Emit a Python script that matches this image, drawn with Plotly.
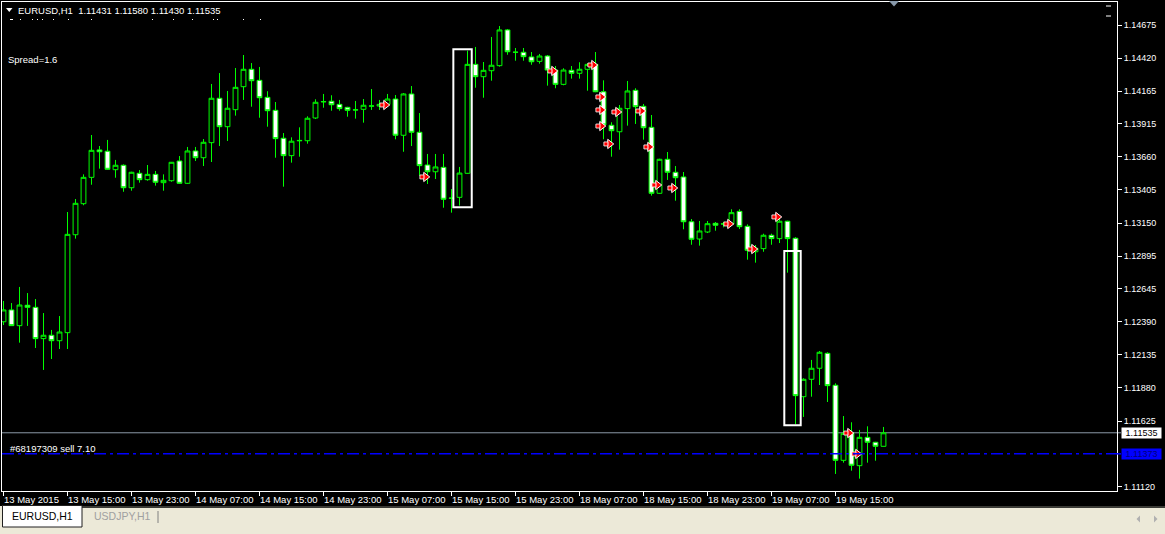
import plotly.graph_objects as go

# ---------------- data ----------------
time_labels = ["13 May 2015", "13 May 15:00", "13 May 23:00", "14 May 07:00", "14 May 15:00",
               "14 May 23:00", "15 May 07:00", "15 May 15:00", "15 May 23:00", "18 May 07:00",
               "18 May 15:00", "18 May 23:00", "19 May 07:00", "19 May 15:00"]
label_step = 8  # one time label every 8 H1 bars

opens = [1.12390, 1.12481, 1.12360, 1.12517, 1.12501, 1.12260, 1.12286, 1.12244, 1.12306, 1.13060,
         1.13299, 1.13502, 1.13713, 1.13703, 1.13561, 1.13595, 1.13422, 1.13533, 1.13484, 1.13525,
         1.13461, 1.13476, 1.13628, 1.13456, 1.13705, 1.13653, 1.13769, 1.14111, 1.13892, 1.14023,
         1.14200, 1.14334, 1.14249, 1.14118, 1.14018, 1.13803, 1.13669, 1.13783, 1.13784, 1.13959,
         1.14083, 1.14088, 1.14064, 1.14041, 1.14020, 1.14026, 1.14050, 1.14051, 1.14064, 1.14105,
         1.13826, 1.14144, 1.13849, 1.13597, 1.13545, 1.13579, 1.13340, 1.13348, 1.13533, 1.14372,
         1.14277, 1.14323, 1.14362, 1.14637, 1.14466, 1.14465, 1.14429, 1.14395, 1.14436, 1.14328,
         1.14218, 1.14326, 1.14303, 1.14334, 1.14372, 1.14161, 1.13903, 1.13853, 1.14031, 1.14172,
         1.14049, 1.13887, 1.13379, 1.13641, 1.13541, 1.13505, 1.13160, 1.13027, 1.13081, 1.13148,
         1.13142, 1.13143, 1.13240, 1.13125, 1.12929, 1.12953, 1.13056, 1.13030, 1.13164, 1.13033,
         1.11813, 1.11947, 1.12032, 1.12147, 1.11901, 1.11323, 1.11536, 1.11282, 1.11500, 1.11462,
         1.11431]
highs = [1.12550, 1.12534, 1.12658, 1.12611, 1.12565, 1.12457, 1.12327, 1.12434, 1.13235, 1.13335,
         1.13525, 1.13828, 1.13743, 1.13790, 1.13636, 1.13602, 1.13545, 1.13558, 1.13597, 1.13551,
         1.13525, 1.13620, 1.13666, 1.13736, 1.13736, 1.13797, 1.14221, 1.14305, 1.14167, 1.14344,
         1.14444, 1.14382, 1.14352, 1.14165, 1.14082, 1.13843, 1.13810, 1.13887, 1.13972, 1.14103,
         1.14144, 1.14134, 1.14098, 1.14045, 1.14090, 1.14105, 1.14182, 1.14098, 1.14144, 1.14136,
         1.14151, 1.14205, 1.13997, 1.13682, 1.13682, 1.13682, 1.13412, 1.13582, 1.14477, 1.14506,
         1.14390, 1.14583, 1.14667, 1.14644, 1.14498, 1.14498, 1.14467, 1.14452, 1.14444, 1.14359,
         1.14342, 1.14359, 1.14388, 1.14380, 1.14467, 1.14249, 1.13926, 1.14059, 1.14244, 1.14188,
         1.14067, 1.13982, 1.13645, 1.13697, 1.13589, 1.13543, 1.13181, 1.13166, 1.13166, 1.13158,
         1.13160, 1.13256, 1.13256, 1.13140, 1.12981, 1.13068, 1.13068, 1.13189, 1.13168, 1.13041,
         1.11955, 1.12096, 1.12165, 1.12155, 1.11916, 1.11664, 1.11616, 1.11557, 1.11585, 1.11465,
         1.11580]
lows = [1.12365, 1.12358, 1.12229, 1.12358, 1.12188, 1.12019, 1.12103, 1.12180, 1.12180, 1.13030,
        1.13287, 1.13445, 1.13569, 1.13560, 1.13499, 1.13391, 1.13399, 1.13461, 1.13476, 1.13438,
        1.13399, 1.13468, 1.13452, 1.13452, 1.13628, 1.13589, 1.13620, 1.13743, 1.13782, 1.13977,
        1.14098, 1.14046, 1.13961, 1.13892, 1.13653, 1.13430, 1.13615, 1.13661, 1.13761, 1.13951,
        1.14038, 1.14015, 1.14015, 1.13969, 1.13954, 1.13923, 1.14021, 1.14021, 1.14046, 1.13795,
        1.13699, 1.13743, 1.13515, 1.13451, 1.13489, 1.13268, 1.13230, 1.13284, 1.13530, 1.14192,
        1.14115, 1.14246, 1.14354, 1.14446, 1.14400, 1.14400, 1.14369, 1.14377, 1.14208, 1.14188,
        1.14211, 1.14262, 1.14262, 1.14169, 1.14158, 1.13795, 1.13661, 1.13715, 1.13900, 1.13913,
        1.13792, 1.13361, 1.13375, 1.13482, 1.13322, 1.13102, 1.12983, 1.12976, 1.13073, 1.13091,
        1.13117, 1.13140, 1.13104, 1.12868, 1.12845, 1.12929, 1.12983, 1.12996, 1.12768, 1.11600,
        1.11657, 1.11813, 1.11903, 1.11772, 1.11218, 1.11305, 1.11243, 1.11182, 1.11305, 1.11320,
        1.11430]
closes = [1.12481, 1.12360, 1.12519, 1.12501, 1.12260, 1.12286, 1.12244, 1.12311, 1.13063, 1.13302,
          1.13502, 1.13710, 1.13699, 1.13564, 1.13595, 1.13422, 1.13541, 1.13484, 1.13525, 1.13464,
          1.13479, 1.13618, 1.13456, 1.13705, 1.13653, 1.13772, 1.14111, 1.13892, 1.14034, 1.14195,
          1.14334, 1.14246, 1.14115, 1.14015, 1.13800, 1.13669, 1.13780, 1.13786, 1.13957, 1.14080,
          1.14085, 1.14061, 1.14031, 1.14018, 1.14022, 1.14057, 1.14052, 1.14064, 1.14105, 1.13826,
          1.14144, 1.13849, 1.13592, 1.13545, 1.13582, 1.13333, 1.13342, 1.13535, 1.14372, 1.14277,
          1.14326, 1.14365, 1.14637, 1.14469, 1.14465, 1.14431, 1.14392, 1.14436, 1.14328, 1.14218,
          1.14328, 1.14303, 1.14334, 1.14372, 1.14161, 1.13905, 1.13861, 1.14034, 1.14167, 1.14046,
          1.13884, 1.13379, 1.13641, 1.13541, 1.13499, 1.13160, 1.13025, 1.13089, 1.13145, 1.13133,
          1.13144, 1.13230, 1.13122, 1.12940, 1.12956, 1.13056, 1.13030, 1.13164, 1.13030, 1.11821,
          1.11947, 1.12032, 1.12155, 1.11898, 1.11323, 1.11531, 1.11285, 1.11500, 1.11462, 1.11431,
          1.11535]

# red signal arrows: bar index and price
arrow_bars = [47, 52, 68, 73, 74, 74, 74, 75, 76, 79, 80, 81, 83, 90, 93, 96, 105, 106]
arrow_prices = [1.14059, 1.13505, 1.14321, 1.14367, 1.14121, 1.14021, 1.13897, 1.13759, 1.14005,
                1.14013, 1.13736, 1.13443, 1.13420, 1.13143, 1.12950, 1.13197, 1.11533, 1.11372]

# rectangle objects (bar positions and price bounds)
rect_start_bar = [56.23, 97.60]
rect_end_bar = [58.53, 99.65]
rect_high = [1.14488, 1.12935]
rect_low = [1.13271, 1.11593]

price_ticks = [1.14675, 1.14420, 1.14165, 1.13915, 1.13660, 1.13405, 1.13150, 1.12895,
               1.12645, 1.12390, 1.12135, 1.11880, 1.11625, 1.11120]
bid_price = 1.11535
order_price = 1.11373
order_text = "#68197309 sell 7.10"
spread_text = "Spread=1.6"
symbol = "EURUSD,H1"
tabs = ["EURUSD,H1", "USDJPY,H1"]

# ---------------- layout geometry ----------------
W, H = 1165, 534
PL, PR, PT, PB = 2, 1117, 2, 491          # plot area in pixels
BAR_PX = 8.0
FIRST_BAR_PX = 3.5
PX_PER_PRICE = 12987.0
REF_PRICE, REF_Y = 1.14675, 25.0

x_range = [(PL - FIRST_BAR_PX) / BAR_PX, (PR - FIRST_BAR_PX) / BAR_PX]
y_range = [REF_PRICE - (PB - REF_Y) / PX_PER_PRICE, REF_PRICE + (REF_Y - PT) / PX_PER_PRICE]


def fx(px):
    return (px - PL) / (PR - PL)


def fy(py):
    return (PB - py) / (PB - PT)


FONT = "Liberation Sans"
GREEN = "#00ff00"

n = len(opens)
bars = list(range(n))

fig = go.Figure()
fig.add_trace(go.Candlestick(
    x=bars, open=opens, high=highs, low=lows, close=closes,
    increasing=dict(line=dict(color=GREEN, width=1), fillcolor="#000000"),
    decreasing=dict(line=dict(color=GREEN, width=1), fillcolor="#ffffff"),
    whiskerwidth=0, showlegend=False, hoverinfo="skip",
))

# arrow heads
fig.add_trace(go.Scatter(
    x=[b + 0.78 for b in arrow_bars], y=arrow_prices, mode="markers",
    marker=dict(symbol="triangle-right", size=8, color="#ff0000",
                line=dict(color="#ffffff", width=1)),
    showlegend=False, hoverinfo="skip",
))
# arrow tails
fig.add_trace(go.Scatter(
    x=[b + 0.3 for b in arrow_bars], y=arrow_prices, mode="markers",
    marker=dict(symbol="square", size=4, color="#ff0000",
                line=dict(color="#ffffff", width=0.8)),
    showlegend=False, hoverinfo="skip",
))

shapes = []
# rectangles
for x0, x1, hi, lo in zip(rect_start_bar, rect_end_bar, rect_high, rect_low):
    shapes.append(dict(type="rect", xref="x", yref="y", x0=x0, x1=x1, y0=lo, y1=hi,
                       line=dict(color="#ffffff", width=2), fillcolor="rgba(0,0,0,0)", layer="above"))
# bid line and order line
shapes.append(dict(type="line", xref="paper", yref="y", x0=0, x1=fx(1121), y0=bid_price, y1=bid_price,
                   line=dict(color="#8c9aa8", width=1), layer="below"))
shapes.append(dict(type="line", xref="paper", yref="y", x0=0, x1=1, y0=order_price, y1=order_price,
                   line=dict(color="#0000ff", width=1.5, dash="12px,4px,3px,4px"), layer="above"))
shapes.append(dict(type="line", xref="paper", yref="y", x0=1, x1=fx(1121), y0=order_price, y1=order_price,
                   line=dict(color="#0000ff", width=1.5)))

# header triangle
shapes.append(dict(type="path", xref="paper", yref="paper",
                   path=f"M {fx(6)} {fy(8)} L {fx(12.5)} {fy(8)} L {fx(9.25)} {fy(12)} Z",
                   fillcolor="#ffffff", line=dict(width=0)))
# clipped second text line under the header (only its top pixels are visible)
for xd in (10, 20, 32, 37, 42, 53, 68, 91, 152, 173, 192, 213, 217, 243, 260):
    shapes.append(dict(type="rect", xref="paper", yref="paper", x0=fx(xd), x1=fx(xd + (3 if xd == 10 else 1)),
                       y0=fy(20), y1=fy(19), fillcolor="#ffffff", line=dict(width=0)))
# chart shift marker at top
shapes.append(dict(type="path", xref="paper", yref="paper",
                   path=f"M {fx(889)} {fy(1)} L {fx(899)} {fy(1)} L {fx(894)} {fy(6.5)} Z",
                   fillcolor="#8899aa", line=dict(width=0)))
# small marks top right
for yy in (6, 16):
    shapes.append(dict(type="line", xref="paper", yref="paper", x0=fx(1106), x1=fx(1111),
                       y0=fy(yy), y1=fy(yy), line=dict(color="#ffffff", width=1)))

# bottom tab strip
shapes.append(dict(type="rect", xref="paper", yref="paper", x0=fx(-2), x1=fx(W + 2),
                   y0=fy(506), y1=fy(H + 2), fillcolor="#ece9d8", line=dict(width=0)))
shapes.append(dict(type="line", xref="paper", yref="paper", x0=fx(82), x1=fx(W + 2),
                   y0=fy(507), y1=fy(507), line=dict(color="#000000", width=1.5)))
shapes.append(dict(type="rect", xref="paper", yref="paper", x0=fx(2.5), x1=fx(82),
                   y0=fy(505.5), y1=fy(527), fillcolor="#ffffff", line=dict(color="#202020", width=1)))
shapes.append(dict(type="line", xref="paper", yref="paper", x0=fx(158), x1=fx(158),
                   y0=fy(511), y1=fy(523), line=dict(color="#808080", width=1)))
# scroll arrows
shapes.append(dict(type="path", xref="paper", yref="paper",
                   path=f"M {fx(1140)} {fy(515.5)} L {fx(1140)} {fy(522.5)} L {fx(1136.5)} {fy(519)} Z",
                   fillcolor="#b0b0b0", line=dict(width=0)))
shapes.append(dict(type="path", xref="paper", yref="paper",
                   path=f"M {fx(1154)} {fy(515.5)} L {fx(1154)} {fy(522.5)} L {fx(1157.5)} {fy(519)} Z",
                   fillcolor="#b0b0b0", line=dict(width=0)))

annotations = []
# time labels (left-aligned at their tick)
for k, lab in enumerate(time_labels):
    annotations.append(dict(x=k * label_step, xref="x", y=fy(499), yref="paper",
                            text=lab, showarrow=False, xanchor="left", yanchor="middle",
                            xshift=-1.5, font=dict(family=FONT, size=9.5, color="#ffffff")))
# header
header = f"{symbol}  {opens[-1]:.5f} {highs[-1]:.5f} {lows[-1]:.5f} {closes[-1]:.5f}"
annotations.append(dict(x=fx(16), xref="paper", y=fy(10), yref="paper", text=header,
                        showarrow=False, xanchor="left", yanchor="middle",
                        font=dict(family=FONT, size=9.5, color="#ffffff")))
annotations.append(dict(x=fx(6), xref="paper", y=fy(59.5), yref="paper", text=spread_text,
                        showarrow=False, xanchor="left", yanchor="middle",
                        font=dict(family=FONT, size=9.5, color="#ffffff")))
annotations.append(dict(x=fx(7.5), xref="paper", y=fy(448), yref="paper", text=order_text,
                        showarrow=False, xanchor="left", yanchor="middle",
                        font=dict(family=FONT, size=9.5, color="#ffffff")))
# price boxes on the right axis
annotations.append(dict(x=fx(1121), xref="paper", y=bid_price, yref="y", text=f"{bid_price:.5f}",
                        showarrow=False, xanchor="left", yanchor="middle", bgcolor="#ffffff",
                        width=38, height=9, borderpad=0.5,
                        font=dict(family=FONT, size=9, color="#000000")))
annotations.append(dict(x=fx(1121), xref="paper", y=order_price, yref="y", text=f"{order_price:.5f}",
                        showarrow=False, xanchor="left", yanchor="middle", bgcolor="#0000ff",
                        width=38, height=9, borderpad=0.5,
                        font=dict(family=FONT, size=9, color="#00007a")))
# tabs
annotations.append(dict(x=fx(42), xref="paper", y=fy(516), yref="paper", text=tabs[0],
                        showarrow=False, xanchor="center", yanchor="middle",
                        font=dict(family=FONT, size=10.5, color="#000000")))
annotations.append(dict(x=fx(92), xref="paper", y=fy(516), yref="paper", text=tabs[1],
                        showarrow=False, xanchor="left", yanchor="middle",
                        font=dict(family=FONT, size=10.5, color="#a0a0a0")))

fig.update_layout(
    width=W, height=H,
    margin=dict(l=PL, r=W - PR, t=PT, b=H - PB, pad=0),
    paper_bgcolor="#000000", plot_bgcolor="#000000",
    font=dict(family=FONT, color="#ffffff"),
    boxgap=0.4, boxgroupgap=0,
    showlegend=False,
    shapes=shapes, annotations=annotations,
    xaxis=dict(range=x_range, rangeslider=dict(visible=False), showgrid=False, zeroline=False,
               tickvals=[k * label_step for k in range(len(time_labels))],
               showticklabels=False, ticks="outside", ticklen=4, tickcolor="#ffffff", tickwidth=1,
               showline=True, linecolor="#ffffff", linewidth=1, mirror=True, fixedrange=True),
    yaxis=dict(range=y_range, side="right", showgrid=False, zeroline=False,
               tickvals=price_ticks, ticktext=[f"{p:.5f}" for p in price_ticks],
               tickfont=dict(family=FONT, size=9, color="#ffffff"),
               ticks="outside", ticklen=4, tickcolor="#ffffff", tickwidth=1,
               showline=True, linecolor="#ffffff", linewidth=1, mirror=True, fixedrange=True),
)

fig.write_html("out.html", config={"displayModeBar": False},
               post_script="document.body.style.margin='0px';document.body.style.overflow='hidden';")
